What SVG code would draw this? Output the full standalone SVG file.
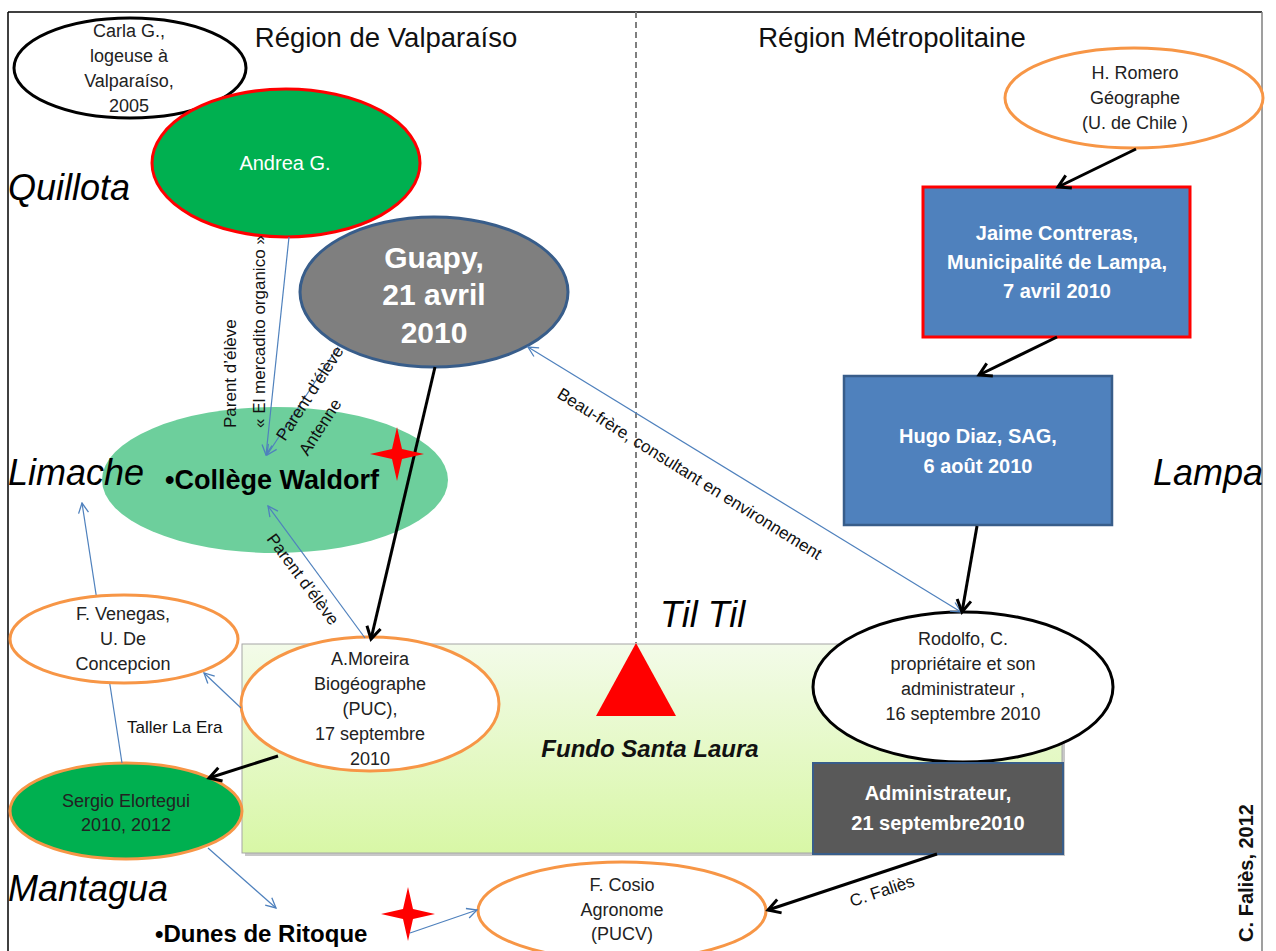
<svg xmlns="http://www.w3.org/2000/svg" width="1276" height="951" viewBox="0 0 1276 951">
<style>
text{font-family:"Liberation Sans",Arial,sans-serif;}
.sm{font-size:18px;fill:#222;text-anchor:middle;}
.lbl{font-size:17px;fill:#111;}
.place{font-size:36px;font-style:italic;fill:#000;}
.title{font-size:27.5px;fill:#111;text-anchor:middle;}
.box{font-size:20px;font-weight:bold;fill:#fff;text-anchor:middle;}
.ob{fill:#fff;stroke:#F79646;stroke-width:3;}
.bl{fill:none;stroke:#4F81BD;stroke-width:1.2;}
.bk{fill:none;stroke:#000;stroke-width:3;}
</style>
<defs>
<linearGradient id="fundo" x1="0" y1="0" x2="0" y2="1">
<stop offset="0" stop-color="#F3FBE9"/>
<stop offset="1" stop-color="#D8F7A6"/>
</linearGradient>
<marker id="ab" viewBox="0 0 12 12" refX="11" refY="6" markerWidth="12" markerHeight="12" markerUnits="userSpaceOnUse" orient="auto-start-reverse">
<path d="M1,1 L11,6 L1,11" fill="none" stroke="#4F81BD" stroke-width="1.3"/>
</marker>
<marker id="ak" viewBox="0 0 18 18" refX="15" refY="9" markerWidth="18" markerHeight="18" markerUnits="userSpaceOnUse" orient="auto">
<path d="M3,2 L15,9 L3,16" fill="none" stroke="#000" stroke-width="3"/>
</marker>
<clipPath id="frameclip"><rect x="0" y="0" width="1262" height="951"/></clipPath>
</defs>
<rect x="0" y="0" width="1276" height="951" fill="#fff"/>
<!-- frame -->
<g id="frame">
<line x1="8" y1="12" x2="1262" y2="12" stroke="#000" stroke-width="1.5"/>
<line x1="8" y1="12" x2="8" y2="951" stroke="#000" stroke-width="1.5"/>
<line x1="1262" y1="12" x2="1262" y2="951" stroke="#7F7F7F" stroke-width="1.5"/>
<line x1="636" y1="12" x2="636" y2="643" stroke="#7F7F7F" stroke-width="2" stroke-dasharray="6,4"/>
</g>
<!-- Fundo Santa Laura -->
<g id="fundo-santa-laura">
<rect x="245" y="647" width="820" height="209" fill="#C8C8C8"/>
<rect x="242" y="644" width="820" height="209" fill="url(#fundo)" stroke="#A6A6A6" stroke-width="1"/>
<text x="650" y="757" font-size="24" font-weight="bold" font-style="italic" text-anchor="middle" fill="#111">Fundo Santa Laura</text>
</g>
<g id="til-til-marker">
<polygon points="636,643 596,716 676,716" fill="#FF0000"/>
</g>
<!-- nodes -->
<g id="college-waldorf">
<ellipse cx="275" cy="480" rx="173" ry="73" fill="#6DCF9C"/>
<text x="165" y="489" font-size="27" font-weight="bold" fill="#000">•Collège Waldorf</text>
</g>
<g id="carla">
<ellipse cx="130" cy="68" rx="116" ry="50" fill="#fff" stroke="#000" stroke-width="3"/>
<text class="sm" x="129" y="37">Carla G.,</text>
<text class="sm" x="129" y="62">logeuse à</text>
<text class="sm" x="129" y="87">Valparaíso,</text>
<text class="sm" x="129" y="112">2005</text>
</g>
<g id="andrea">
<ellipse cx="286" cy="163" rx="134" ry="74" fill="#00B050" stroke="#FF0000" stroke-width="3"/>
<text x="285" y="170" font-size="20" fill="#fff" text-anchor="middle">Andrea G.</text>
</g>
<g id="guapy">
<ellipse cx="434" cy="292" rx="134" ry="75" fill="#7F7F7F" stroke="#385D8A" stroke-width="3"/>
<text x="434" y="268" font-size="30" font-weight="bold" fill="#fff" text-anchor="middle">Guapy,</text>
<text x="434" y="305" font-size="30" font-weight="bold" fill="#fff" text-anchor="middle">21 avril</text>
<text x="434" y="343" font-size="30" font-weight="bold" fill="#fff" text-anchor="middle">2010</text>
</g>
<g id="romero">
<ellipse cx="1134" cy="98" rx="129" ry="50" class="ob"/>
<text class="sm" x="1135" y="79">H. Romero</text>
<text class="sm" x="1135" y="104">Géographe</text>
<text class="sm" x="1135" y="129">(U. de Chile )</text>
</g>
<g id="jaime">
<rect x="923" y="187" width="267" height="150" fill="#4F81BD" stroke="#FF0000" stroke-width="3"/>
<text class="box" x="1057" y="240">Jaime Contreras,</text>
<text class="box" x="1057" y="269">Municipalité de Lampa,</text>
<text class="box" x="1057" y="298">7 avril 2010</text>
</g>
<g id="hugo">
<rect x="844" y="376" width="268" height="149" fill="#4F81BD" stroke="#385D8A" stroke-width="2.5"/>
<text class="box" x="978" y="443">Hugo Diaz, SAG,</text>
<text class="box" x="978" y="473">6 août 2010</text>
</g>
<g id="rodolfo">
<ellipse cx="963" cy="687" rx="150" ry="75" fill="#fff" stroke="#000" stroke-width="3"/>
<text class="sm" x="963" y="645">Rodolfo, C.</text>
<text class="sm" x="963" y="670">propriétaire et son</text>
<text class="sm" x="963" y="695">administrateur ,</text>
<text class="sm" x="963" y="720">16 septembre 2010</text>
</g>
<g id="administrateur">
<rect x="813" y="763" width="250" height="91" fill="#595959" stroke="#385D8A" stroke-width="2"/>
<text class="box" x="938" y="800">Administrateur,</text>
<text class="box" x="938" y="830">21 septembre2010</text>
</g>
<g id="moreira">
<ellipse cx="370" cy="704" rx="129" ry="67" class="ob"/>
<text class="sm" x="370" y="665">A.Moreira</text>
<text class="sm" x="370" y="690">Biogéographe</text>
<text class="sm" x="370" y="715">(PUC),</text>
<text class="sm" x="370" y="740">17 septembre</text>
<text class="sm" x="370" y="765">2010</text>
</g>
<g id="sergio">
<ellipse cx="126" cy="811" rx="116" ry="48" fill="#00B050" stroke="#F79646" stroke-width="3"/>
<text class="sm" x="126" y="807" fill="#111">Sergio Elortegui</text>
<text class="sm" x="126" y="831" fill="#111">2010, 2012</text>
</g>
<g id="dunes-de-ritoque">
<text x="155" y="942" font-size="24" font-weight="bold" fill="#000">•Dunes de Ritoque</text>
</g>
<g id="cosio">
<ellipse cx="622" cy="911" rx="144" ry="49" class="ob"/>
<text class="sm" x="622" y="891">F. Cosio</text>
<text class="sm" x="622" y="916">Agronome</text>
<text class="sm" x="622" y="940">(PUCV)</text>
</g>
<!-- region and place labels -->
<g id="labels">
<text class="title" x="386" y="47">Région de Valparaíso</text>
<text class="title" x="892" y="47">Région Métropolitaine</text>
<text class="place" x="8" y="200">Quillota</text>
<text class="place" x="8" y="485">Limache</text>
<text class="place" x="8" y="901">Mantagua</text>
<text class="place" x="660" y="627">Til Til</text>
<text class="place" x="1153" y="485" clip-path="url(#frameclip)">Lampa</text>
<text x="1253" y="804" transform="rotate(-90 1253 804)" text-anchor="end" font-size="20" font-weight="bold" fill="#111">C. Faliès, 2012</text>
</g>
<!-- connectors -->
<g id="connectors">
<path class="bl" d="M289,237 L266,455" marker-end="url(#ab)"/>
<path class="bl" d="M338,347 L267,455" marker-end="url(#ab)"/>
<path class="bl" d="M365,638 L268,506" marker-end="url(#ab)"/>
<path class="bl" d="M528,347 L961,612" marker-start="url(#ab)" marker-end="url(#ab)"/>
<path class="bl" d="M241,708 L204,673" marker-end="url(#ab)"/>
<path class="bl" d="M122,763 L82,503" marker-end="url(#ab)"/>
<path class="bl" d="M208,848 L276,908" marker-end="url(#ab)"/>
<path class="bl" d="M410,933 L477,910" marker-end="url(#ab)"/>
<path class="bk" d="M1136,149 L1058,187" marker-end="url(#ak)"/>
<path class="bk" d="M1057,337 L979,375" marker-end="url(#ak)"/>
<path class="bk" d="M977,526 L962,612" marker-end="url(#ak)"/>
<path class="bk" d="M435,367 L371,639" marker-end="url(#ak)"/>
<path class="bk" d="M278,756 L209,778" marker-end="url(#ak)"/>
<path class="bk" d="M937,854 L768,910" marker-end="url(#ak)"/>
<g id="connector-labels">
<g transform="translate(236,428) rotate(-90)">
<text class="lbl" x="0" y="0">Parent d’élève</text>
<text class="lbl" x="0" y="29">« El mercadito organico »</text>
</g>
<g transform="translate(285,442) rotate(-57)">
<text class="lbl" x="0" y="0">Parent d’élève</text>
<text class="lbl" x="0" y="27">Antenne</text>
</g>
<text class="lbl" transform="translate(266,539) rotate(53.5)">Parent d’élève</text>
<text class="lbl" font-size="18" transform="translate(556,397) rotate(32)">Beau-frère, consultant en environnement</text>
<text class="lbl" x="127" y="733" font-size="16">Taller La Era</text>
<text class="lbl" font-size="16" transform="translate(852,907) rotate(-18.5)">C. Faliès</text>
</g>
</g>
<g id="venegas">
<ellipse cx="124" cy="639" rx="114" ry="44" class="ob"/>
<text class="sm" x="123" y="620">F. Venegas,</text>
<text class="sm" x="123" y="645">U. De</text>
<text class="sm" x="123" y="670">Concepcion</text>
</g>
<g id="stars">
<path d="M397,427 L402,449 L424,454 L402,459 L397,481 L392,459 L370,454 L392,449 Z" fill="#FF0000"/>
<path d="M408,887 L413,909 L435,914 L413,919 L408,941 L403,919 L381,914 L403,909 Z" fill="#FF0000"/>
</g>
</svg>
